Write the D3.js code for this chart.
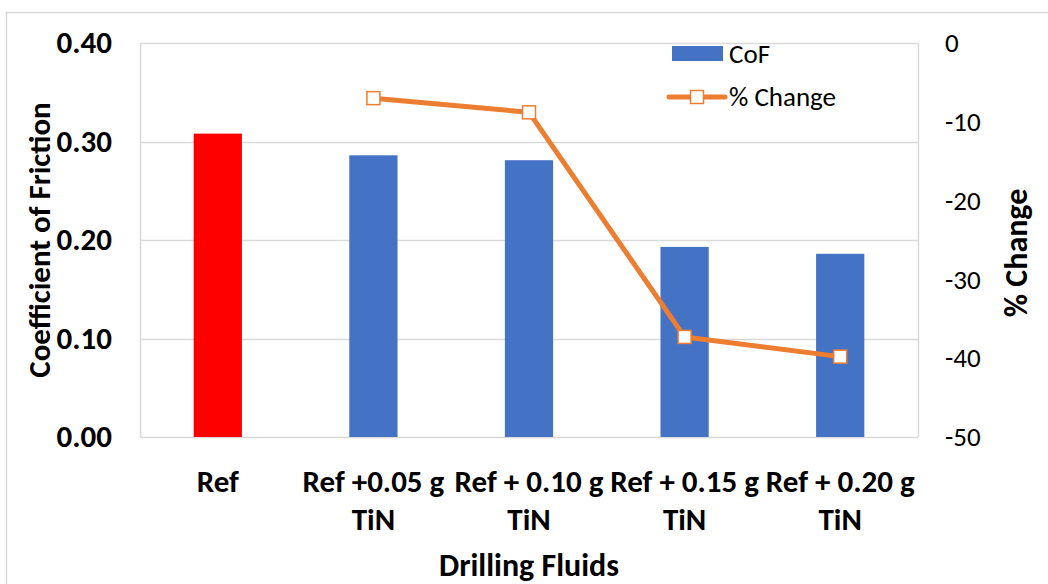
<!DOCTYPE html>
<html>
<head>
<meta charset="utf-8">
<script src="https://cdn.jsdelivr.net/npm/d3@7"></script>
<style>
  html, body { margin: 0; padding: 0; background: #fff; }
  svg { display: block; font-family: Carlito, Lato, "Open Sans", sans-serif; }
</style>
</head>
<body>
<svg id="chart" width="1048" height="584"></svg>
<script>
// Drilling fluid samples and their measured friction
const categories = [["Ref"], ["Ref +0.05 g", "TiN"], ["Ref + 0.10 g", "TiN"], ["Ref + 0.15 g", "TiN"], ["Ref + 0.20 g", "TiN"]];
const cofValues = [0.308, 0.286, 0.281, 0.193, 0.186];
const pctChange = [null, -7.0, -8.8, -37.3, -39.8];
const barColors = ["#FF0000", "#4472C4", "#4472C4", "#4472C4", "#4472C4"];
const leftTicks = [0, 0.1, 0.2, 0.3, 0.4];
const rightTicks = [0, -10, -20, -30, -40, -50];

const svg = d3.select("#chart");
const plot = { left: 140, right: 918, top: 43, bottom: 437 };

// outer chart frame
svg.append("rect").attr("x", 6.5).attr("y", 12.5).attr("width", 1100).attr("height", 700)
  .attr("fill", "#fff").attr("stroke", "#d9d9d9").attr("stroke-width", 1.5);

const x = d3.scaleBand().domain(d3.range(categories.length))
  .range([plot.left, plot.right]).paddingInner(0.69).paddingOuter(0.345);
const y = d3.scaleLinear().domain([0, 0.4]).range([plot.bottom, plot.top]);
const y2 = d3.scaleLinear().domain([-50, 0]).range([plot.bottom, plot.top]);

// gridlines
svg.append("g").selectAll("line").data(leftTicks).join("line")
  .attr("x1", plot.left).attr("x2", plot.right)
  .attr("y1", d => Math.round(y(d)) + 0.5).attr("y2", d => Math.round(y(d)) + 0.5)
  .attr("stroke", "#d9d9d9").attr("stroke-width", 1.5);
// plot area border sides
svg.append("line").attr("x1", plot.left + 0.5).attr("x2", plot.left + 0.5).attr("y1", plot.top).attr("y2", plot.bottom)
  .attr("stroke", "#d9d9d9").attr("stroke-width", 1.5);
svg.append("line").attr("x1", plot.right + 0.5).attr("x2", plot.right + 0.5).attr("y1", plot.top).attr("y2", plot.bottom)
  .attr("stroke", "#d9d9d9").attr("stroke-width", 1.5);

// bars
svg.append("g").selectAll("rect").data(cofValues).join("rect")
  .attr("x", (d, i) => x(i)).attr("width", x.bandwidth())
  .attr("y", d => y(d)).attr("height", d => y(0) - y(d))
  .attr("fill", (d, i) => barColors[i]);

// left axis
const leftAxis = svg.append("g").attr("transform", `translate(${plot.left},0)`)
  .call(d3.axisLeft(y).tickValues(leftTicks).tickFormat(d3.format(".2f")).tickSize(0).tickPadding(28));
leftAxis.select(".domain").remove();
leftAxis.selectAll("text").attr("font-size", 31).attr("font-weight", "bold").attr("fill", "#000")
  .attr("font-family", "Carlito, Lato, sans-serif");

// right axis
const rightAxis = svg.append("g").attr("transform", `translate(${plot.right},0)`)
  .call(d3.axisRight(y2).tickValues(rightTicks).tickFormat(d => String(d)).tickSize(0).tickPadding(27));
rightAxis.select(".domain").remove();
rightAxis.selectAll("text").attr("font-size", 27).attr("fill", "#000")
  .attr("font-family", "Carlito, Lato, sans-serif");

// category labels
const xl = svg.append("g");
categories.forEach((lines, i) => {
  const t = xl.append("text").attr("x", x(i) + x.bandwidth() / 2).attr("y", 492)
    .attr("text-anchor", "middle").attr("font-size", 31).attr("font-weight", "bold");
  lines.forEach((s, k) => t.append("tspan").attr("x", x(i) + x.bandwidth() / 2).attr("dy", k ? 38 : 0).text(s));
});

// axis titles
svg.append("text").attr("transform", `translate(50,${(plot.top + plot.bottom) / 2}) rotate(-90)`)
  .attr("text-anchor", "middle").attr("font-size", 31).attr("font-weight", "bold").text("Coefficient of Friction");
svg.append("text").attr("transform", `translate(1027,253) rotate(-90)`)
  .attr("text-anchor", "middle").attr("font-size", 32).attr("font-weight", "bold").text("%  Change");
svg.append("text").attr("x", (plot.left + plot.right) / 2).attr("y", 576)
  .attr("text-anchor", "middle").attr("font-size", 32).attr("font-weight", "bold").text("Drilling Fluids");

// % change line
const pts = pctChange.map((v, i) => ({ i, v })).filter(d => d.v !== null);
const line = d3.line().x(d => x(d.i) + x.bandwidth() / 2).y(d => y2(d.v));
svg.append("path").datum(pts).attr("d", line).attr("fill", "none")
  .attr("stroke", "#ED7D31").attr("stroke-width", 5).attr("stroke-linejoin", "round");
svg.append("g").selectAll("rect").data(pts).join("rect")
  .attr("x", d => x(d.i) + x.bandwidth() / 2 - 6.5).attr("y", d => y2(d.v) - 6.5)
  .attr("width", 13).attr("height", 13).attr("fill", "#fff").attr("stroke", "#ED7D31").attr("stroke-width", 1.5);

// legend
const lg = svg.append("g");
lg.append("rect").attr("x", 672).attr("y", 46).attr("width", 51).attr("height", 15).attr("fill", "#4472C4");
lg.append("text").attr("x", 729).attr("y", 63).attr("font-size", 27).text("CoF");
lg.append("line").attr("x1", 669).attr("x2", 725).attr("y1", 97).attr("y2", 97)
  .attr("stroke", "#ED7D31").attr("stroke-width", 5).attr("stroke-linecap", "round");
lg.append("rect").attr("x", 690.5).attr("y", 90.5).attr("width", 13).attr("height", 13)
  .attr("fill", "#fff").attr("stroke", "#ED7D31").attr("stroke-width", 1.5);
lg.append("text").attr("x", 729).attr("y", 106).attr("font-size", 27).text("% Change");
</script>
</body>
</html>
